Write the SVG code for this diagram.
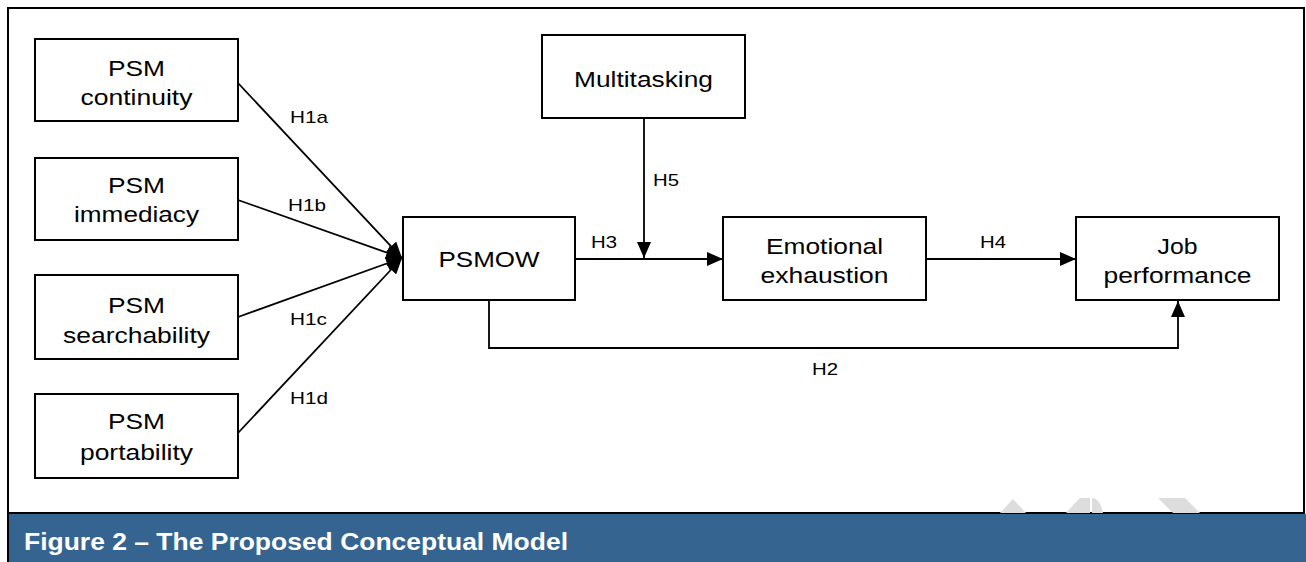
<svg xmlns="http://www.w3.org/2000/svg" width="1306" height="562" viewBox="0 0 1306 562">
<style>
.box{fill:#fff;stroke:#000;stroke-width:2}
.t{font-family:"Liberation Sans",Arial,sans-serif;font-size:22px;fill:#000;text-anchor:middle}
.l{font-family:"Liberation Sans",Arial,sans-serif;font-size:17px;fill:#000}
.c{stroke:#000;stroke-width:1.8;fill:none}
.cap{font-family:"Liberation Sans",Arial,sans-serif;font-size:23px;font-weight:bold;fill:#fff}
</style>
<defs>
<marker id="ah" viewBox="0 0 16 14" refX="16" refY="7" markerWidth="16" markerHeight="14" markerUnits="userSpaceOnUse" orient="auto">
<path d="M0,0 L16,7 L0,14 Z" fill="#000"/>
</marker>
</defs>
<rect x="0" y="0" width="1306" height="562" fill="#fff"/>
<rect x="8" y="8" width="1296" height="505" fill="#fff" stroke="#000" stroke-width="2"/>
<rect x="8" y="514" width="1298" height="48" fill="#366490"/>
<line x1="8" y1="8" x2="8" y2="562" stroke="#000" stroke-width="2"/>
<g fill="#dddddd">
<polygon points="1000,513 1013,499 1026,513"/>
<polygon points="1066,513 1080,498 1090,498 1090,513"/>
<path d="M1092,498 Q1100,498 1103,513 L1092,513 Z"/>
<polygon points="1158,498 1185,498 1200,513 1173,513"/>
</g>
<text class="cap" x="24" y="550" textLength="544" lengthAdjust="spacingAndGlyphs">Figure 2 – The Proposed Conceptual Model</text>

<g id="connectors">
<line class="c" x1="238" y1="83" x2="402" y2="258" marker-end="url(#ah)"/>
<line class="c" x1="238" y1="200" x2="402" y2="258" marker-end="url(#ah)"/>
<line class="c" x1="238" y1="317" x2="402" y2="258" marker-end="url(#ah)"/>
<line class="c" x1="238" y1="433" x2="402" y2="258" marker-end="url(#ah)"/>
<line class="c" x1="575" y1="259" x2="723" y2="259" marker-end="url(#ah)"/>
<line class="c" x1="644" y1="119" x2="644" y2="258" marker-end="url(#ah)"/>
<line class="c" x1="926" y1="259" x2="1076" y2="259" marker-end="url(#ah)"/>
<polyline class="c" points="489,301 489,348 1178,348 1178,301" marker-end="url(#ah)"/>
<text class="l" x="290" y="123" textLength="38" lengthAdjust="spacingAndGlyphs">H1a</text>
<text class="l" x="288" y="211" textLength="38" lengthAdjust="spacingAndGlyphs">H1b</text>
<text class="l" x="290" y="325" textLength="37" lengthAdjust="spacingAndGlyphs">H1c</text>
<text class="l" x="290" y="404" textLength="38" lengthAdjust="spacingAndGlyphs">H1d</text>
<text class="l" x="591" y="248" textLength="26" lengthAdjust="spacingAndGlyphs">H3</text>
<text class="l" x="653" y="186" textLength="26" lengthAdjust="spacingAndGlyphs">H5</text>
<text class="l" x="980" y="248" textLength="26" lengthAdjust="spacingAndGlyphs">H4</text>
<text class="l" x="812" y="375" textLength="26" lengthAdjust="spacingAndGlyphs">H2</text>
</g>

<g id="psm-continuity">
<rect class="box" x="35" y="39" width="203" height="82"/>
<text class="t" x="136.5" y="76" textLength="57" lengthAdjust="spacingAndGlyphs">PSM</text>
<text class="t" x="136.5" y="105" textLength="112" lengthAdjust="spacingAndGlyphs">continuity</text>
</g>
<g id="psm-immediacy">
<rect class="box" x="35" y="158" width="203" height="82"/>
<text class="t" x="136.5" y="193" textLength="57" lengthAdjust="spacingAndGlyphs">PSM</text>
<text class="t" x="136.5" y="222" textLength="125" lengthAdjust="spacingAndGlyphs">immediacy</text>
</g>
<g id="psm-searchability">
<rect class="box" x="35" y="275" width="203" height="84"/>
<text class="t" x="136.5" y="313" textLength="57" lengthAdjust="spacingAndGlyphs">PSM</text>
<text class="t" x="136.5" y="343" textLength="147" lengthAdjust="spacingAndGlyphs">searchability</text>
</g>
<g id="psm-portability">
<rect class="box" x="35" y="394" width="203" height="84"/>
<text class="t" x="136.5" y="429" textLength="57" lengthAdjust="spacingAndGlyphs">PSM</text>
<text class="t" x="136.5" y="460" textLength="113" lengthAdjust="spacingAndGlyphs">portability</text>
</g>
<g id="psmow">
<rect class="box" x="403" y="217" width="172" height="83"/>
<text class="t" x="489" y="267" textLength="101" lengthAdjust="spacingAndGlyphs">PSMOW</text>
</g>
<g id="multitasking">
<rect class="box" x="542" y="35" width="203" height="83"/>
<text class="t" x="643.5" y="87" textLength="139" lengthAdjust="spacingAndGlyphs">Multitasking</text>
</g>
<g id="emotional-exhaustion">
<rect class="box" x="723" y="217" width="203" height="83"/>
<text class="t" x="824.5" y="254" textLength="117" lengthAdjust="spacingAndGlyphs">Emotional</text>
<text class="t" x="824.5" y="283" textLength="128" lengthAdjust="spacingAndGlyphs">exhaustion</text>
</g>
<g id="job-performance">
<rect class="box" x="1076" y="217" width="203" height="83"/>
<text class="t" x="1177.5" y="254" textLength="40" lengthAdjust="spacingAndGlyphs">Job</text>
<text class="t" x="1177.5" y="283" textLength="148" lengthAdjust="spacingAndGlyphs">performance</text>
</g>
</svg>
